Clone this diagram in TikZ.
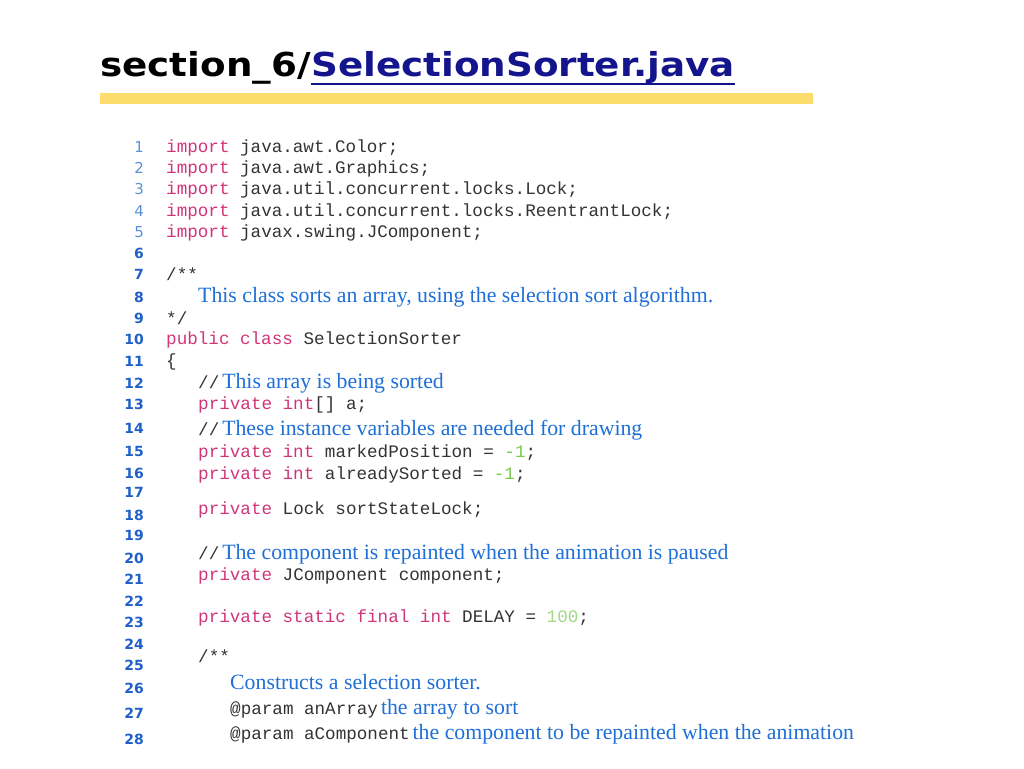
\documentclass[tikz,border=0pt]{standalone}
\usepackage{fontspec}
\setmainfont{Liberation Serif}
\newfontfamily\codef{Liberation Mono}
\newfontfamily\numf{DejaVu Sans}
\newfontfamily\titlef[FakeStretch=1.13]{DejaVu Sans}
\definecolor{kw}{HTML}{D0357A}
\definecolor{cd}{HTML}{333333}
\definecolor{cm}{HTML}{1E6FD8}
\definecolor{nm}{HTML}{78C850}
\definecolor{ln}{HTML}{1F5FC8}
\definecolor{lnl}{HTML}{5A90D8}
\definecolor{ttl}{HTML}{14148C}
\definecolor{bar}{HTML}{FCDC6C}
\newcommand{\kw}[1]{\textcolor{kw}{#1}}
\newcommand{\nmb}[1]{\textcolor{nm}{#1}}
\newcommand{\cmt}[1]{{\fontsize{21.8}{23}\selectfont\rmfamily\textcolor{cm}{#1}}}
\tikzset{
  code/.style={anchor=base west,inner sep=0,font=\codef\fontsize{17.6}{18}\selectfont,text=cd},
  num/.style={anchor=base east,inner sep=0,font=\numf\bfseries\fontsize{14}{15}\selectfont,text=ln},
  numl/.style={anchor=base east,inner sep=0,font=\numf\fontsize{15}{16}\selectfont,text=lnl},
  ttlstyle/.style={anchor=base west,inner sep=0,font=\titlef\bfseries\fontsize{33}{38}\selectfont},
}
\begin{document}
\begin{tikzpicture}[x=1pt,y=-1pt]
\useasboundingbox (0,0) rectangle (1024,768);
\node[ttlstyle] (title) at (100,76) {section\_6/};
\node[ttlstyle,text=ttl] (file) at (title.base east) {SelectionSorter.java};
\draw[ttl,line width=2pt] ([yshift=-8pt]file.base west) -- ([yshift=-8pt]file.base east);
\fill[bar] (100,93) rectangle (813,104);
% line numbers
\foreach \n/\y in {1/152,2/173,3/194,4/216,5/237}{\node[numl] (n\n) at (144,\y) {\n};}
\foreach \n/\y in {6/258,7/279,8/302,9/323,10/344,11/366,12/388,13/409,14/433,15/456,16/478,17/497,18/520,19/540,20/563,21/584,22/606,23/627,24/649,25/670,26/693,27/718,28/744}{\node[num] (n\n) at (144,\y) {\n};}
\node[code] (c1) at (166,152) {\kw{import} java.awt.Color;};
\node[code] (c2) at (166,173) {\kw{import} java.awt.Graphics;};
\node[code] (c3) at (166,194) {\kw{import} java.util.concurrent.locks.Lock;};
\node[code] (c4) at (166,216) {\kw{import} java.util.concurrent.locks.ReentrantLock;};
\node[code] (c5) at (166,237) {\kw{import} javax.swing.JComponent;};
\node[code] (c7) at (166,280) {/**};
\node[code] (c8) at (198,302) {\cmt{This class sorts an array, using the selection sort algorithm.}};
\node[code] (c9) at (166,324) {*/};
\node[code] (c10) at (166,344) {\kw{public class} SelectionSorter};
\node[code] (c11) at (166,366) {\{};
\node[code] (c12) at (198,388) {//\,\cmt{This array is being sorted}};
\node[code] (c13) at (198,409) {\kw{private int}[] a;};
\node[code] (c14) at (198,435) {//\,\cmt{These instance variables are needed for drawing}};
\node[code] (c15) at (198,457) {\kw{private int} markedPosition = \nmb{-1};};
\node[code] (c16) at (198,479) {\kw{private int} alreadySorted = \nmb{-1};};
\node[code] (c18) at (198,514) {\kw{private} Lock sortStateLock;};
\node[code] (c20) at (198,559) {//\,\cmt{The component is repainted when the animation is paused}};
\node[code] (c21) at (198,580) {\kw{private} JComponent component;};
\node[code] (c23) at (198,622) {\kw{private static final int} DELAY = \textcolor{nm!70}{100};};
\node[code] (c25) at (198,662) {/**};
\node[code] (c26) at (230,689) {\cmt{Constructs a selection sorter.}};
\node[code] (c27) at (230,714) {@param anArray\,\cmt{the array to sort}};
\node[code] (c28) at (230,739) {@param aComponent\,\cmt{the component to be repainted when the animation}};
\end{tikzpicture}
\end{document}
